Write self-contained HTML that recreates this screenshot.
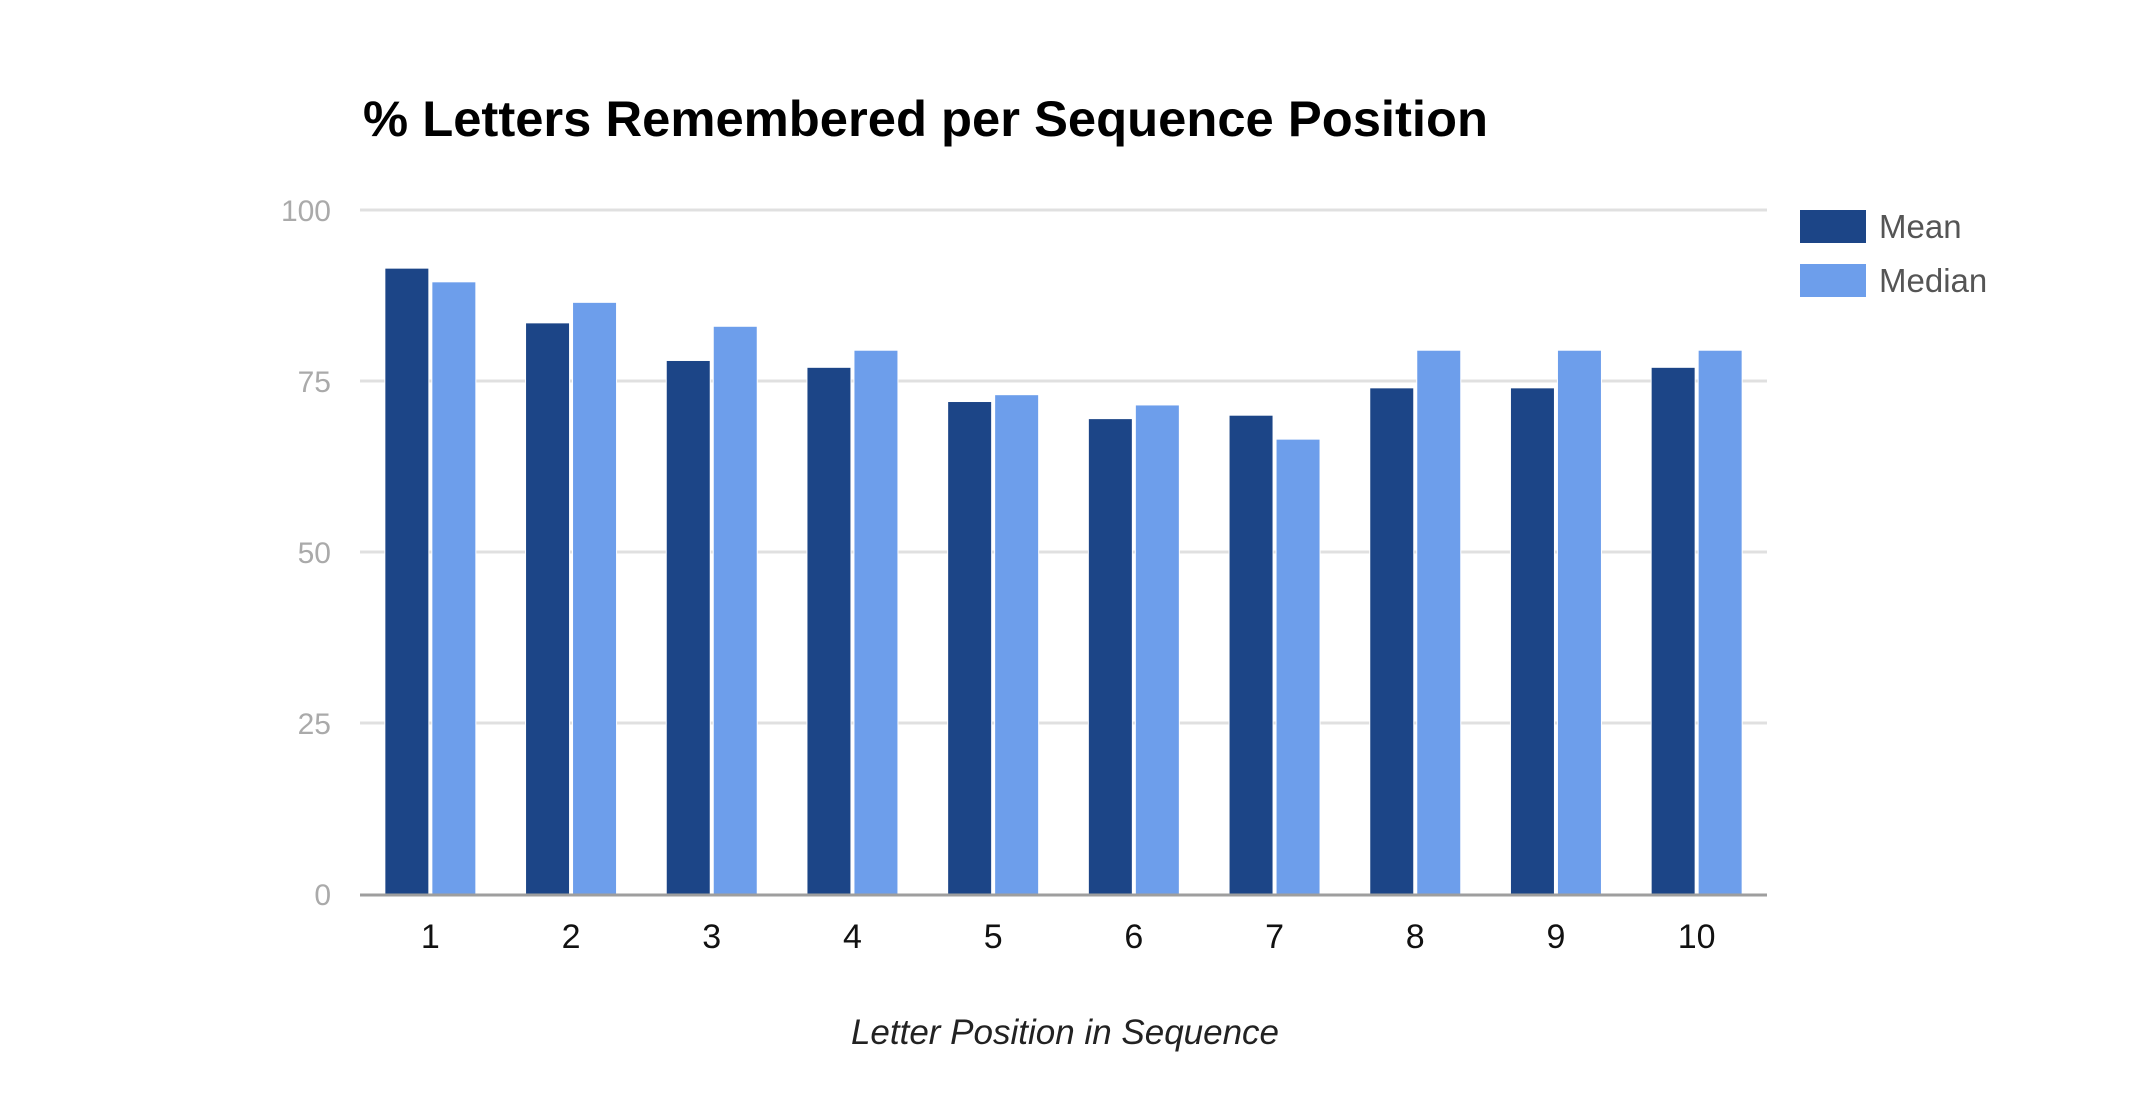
<!DOCTYPE html>
<html><head><meta charset="utf-8"><style>
html,body{margin:0;padding:0;background:#fff;}
svg{display:block;font-family:"Liberation Sans",Arial,sans-serif;}
</style></head><body>
<svg id="chart" width="2130" height="1104" viewBox="0 0 2130 1104">
<text x="363" y="136" font-size="50" font-weight="bold" fill="#000" textLength="1125" lengthAdjust="spacingAndGlyphs">% Letters Remembered per Sequence Position</text>
<g id="grid"></g><g id="bars"></g><g id="xlabels"></g>
<line x1="360" x2="1767" y1="895" y2="895" stroke="#9e9e9e" stroke-width="3"/>
<text x="1065" y="1044" font-size="35" font-style="italic" fill="#222" text-anchor="middle">Letter Position in Sequence</text>
<g>
<rect x="1800" y="210" width="66" height="33" fill="#1c4587"/>
<text x="1879" y="238" font-size="33" fill="#555">Mean</text>
<rect x="1800" y="264" width="66" height="33" fill="#6d9eeb"/>
<text x="1879" y="292" font-size="33" fill="#555">Median</text>
</g>
</svg>
<script>
const categories=["1","2","3","4","5","6","7","8","9","10"];
const meanValues=[91.5,83.5,78,77,72,69.5,70,74,74,77];
const medianValues=[89.5,86.5,83,79.5,73,71.5,66.5,79.5,79.5,79.5];
const yTicks=[0,25,50,75,100];
const NS="http://www.w3.org/2000/svg";
const L=360,R=1767,T=210,B=894,ymax=100;
const y=v=>B-(v/ymax)*(B-T);
const band=(R-L)/categories.length;
const xc=i=>L+band*(i+0.5);
function mk(tag,attrs,parent){const e=document.createElementNS(NS,tag);for(const k in attrs)e.setAttribute(k,attrs[k]);parent.appendChild(e);return e;}
const grid=document.getElementById('grid'),bars=document.getElementById('bars'),xl=document.getElementById('xlabels');
yTicks.forEach(t=>{
 if(t>0){const g=mk('line',{x1:L,x2:R,y1:y(t),y2:y(t),stroke:'#e0e0e0','stroke-width':3},grid);
 
 }
 const tx=mk('text',{x:331,y:y(t)+11,'font-size':30,fill:'#aaa','text-anchor':'end'},grid);
 tx.textContent=t;
 
 
});
const bw=44,gap=3;
categories.forEach((c,i)=>{
 const cx=xc(i);
 const m=mk('rect',{x:cx-gap/2-bw,y:y(meanValues[i]),width:bw,height:B-y(meanValues[i]),fill:'#1c4587',stroke:'#fff','stroke-width':1},bars);
 
 
 const d=mk('rect',{x:cx+gap/2,y:y(medianValues[i]),width:bw,height:B-y(medianValues[i]),fill:'#6d9eeb',stroke:'#fff','stroke-width':1},bars);
 
 
 const t=mk('text',{x:cx,y:948,'font-size':34,fill:'#111','text-anchor':'middle'},xl);
 t.textContent=c;
 
 
});
</script>
</body></html>
